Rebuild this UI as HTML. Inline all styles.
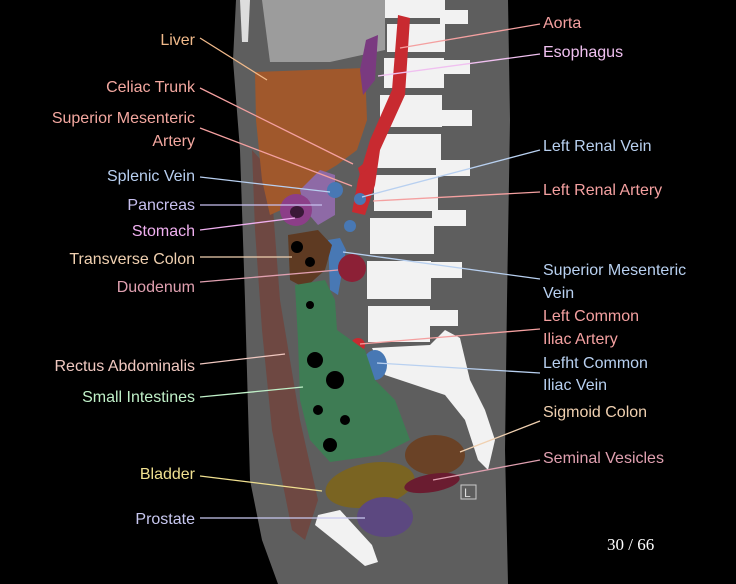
<!DOCTYPE html>
<html><head><meta charset="utf-8"><style>
html,body{margin:0;padding:0;background:#000;width:736px;height:584px;overflow:hidden}
svg{display:block}
text{font-family:"Liberation Sans","DejaVu Sans",sans-serif;font-size:16px}
</style></head><body>
<svg width="736" height="584" viewBox="0 0 736 584">
<rect width="736" height="584" fill="#000"/>
<!-- body -->
<path d="M236,0 L508,0 L510,120 L507,300 L505,450 L508,584 L278,584 L262,540 L250,480 L245,300 L240,150 L233,60 Z" fill="#5e5e5e"/>
<path d="M262,0 L385,0 L385,50 L330,62 L270,62 Z" fill="#9c9c9c"/>
<path d="M240,0 L250,0 L248,42 L242,42 Z" fill="#ddd"/>
<!-- rectus -->
<path d="M252,150 L270,170 L280,300 L300,420 L318,500 L305,540 L292,530 L272,430 L262,330 L255,230 Z" fill="#6e4842"/>
<!-- liver -->
<path d="M255,72 L365,68 L367,120 L357,150 L337,165 L312,180 L292,205 L270,215 L262,180 L256,120 Z" fill="#a0582c"/>
<!-- spine -->
<g fill="#f2f2f2">
<rect x="385" y="0" width="60" height="18"/>
<rect x="387" y="24" width="58" height="28"/>
<rect x="384" y="58" width="60" height="30"/>
<rect x="380" y="95" width="62" height="32"/>
<rect x="377" y="134" width="64" height="34"/>
<rect x="374" y="175" width="64" height="36"/>
<rect x="370" y="218" width="64" height="36"/>
<rect x="367" y="261" width="64" height="38"/>
<rect x="368" y="306" width="62" height="36"/>
<path d="M372,348 L430,345 L445,330 L460,338 L470,380 L485,410 L495,440 L488,470 L478,460 L465,420 L445,395 L415,385 L385,375 Z"/>
<rect x="440" y="10" width="28" height="14"/><rect x="440" y="60" width="30" height="14"/>
<rect x="440" y="110" width="32" height="16"/><rect x="436" y="160" width="34" height="16"/>
<rect x="432" y="210" width="34" height="16"/><rect x="428" y="262" width="34" height="16"/>
<rect x="426" y="310" width="32" height="16"/>
<path d="M318,515 L340,510 L372,545 L378,562 L365,566 L340,545 L315,525 Z"/>
</g>
<!-- aorta -->
<path d="M398,15 L410,18 L405,95 L380,150 L375,185 L365,215 L352,212 L358,180 L370,140 L392,90 Z" fill="#c82a30"/>
<path d="M358,168 L368,160 L372,165 L360,175 Z" fill="#c82a30"/>
<path d="M366,40 L378,35 L375,80 L363,95 L360,70 Z" fill="#7a3a80"/>
<!-- pancreas / stomach -->
<path d="M300,190 L320,170 L335,175 L335,215 L318,225 L305,210 Z" fill="#8e6aa6"/>
<ellipse cx="296" cy="210" rx="16" ry="16" fill="#8c3e88"/>
<ellipse cx="297" cy="212" rx="7" ry="6" fill="#3a1838"/>
<!-- blue veins -->
<g fill="#4878b4">
<circle cx="335" cy="190" r="8"/><circle cx="360" cy="199" r="6"/><circle cx="350" cy="226" r="6"/>
<path d="M328,240 L340,238 L346,250 L338,295 L330,290 Z"/>
<ellipse cx="375" cy="365" rx="12" ry="15"/>
</g>
<circle cx="352" cy="268" r="14" fill="#8c2036"/>
<circle cx="358" cy="345" r="7" fill="#c82a30"/>
<!-- transverse colon -->
<path d="M288,235 L318,230 L332,245 L325,270 L305,288 L290,280 Z" fill="#5e3a22"/>
<circle cx="297" cy="247" r="6" fill="#000"/><circle cx="310" cy="262" r="5" fill="#000"/>
<!-- small intestines -->
<path d="M295,285 L325,280 L335,300 L337,330 L365,350 L375,380 L395,400 L410,440 L380,455 L330,462 L310,440 L300,400 L298,340 Z" fill="#3e7c54"/>
<g fill="#000"><circle cx="315" cy="360" r="8"/><circle cx="335" cy="380" r="9"/><circle cx="318" cy="410" r="5"/><circle cx="345" cy="420" r="5"/><circle cx="330" cy="445" r="7"/><circle cx="310" cy="305" r="4"/></g>
<!-- pelvis -->
<ellipse cx="435" cy="455" rx="30" ry="20" fill="#6a4226"/>
<ellipse cx="370" cy="485" rx="45" ry="22" fill="#7a6422" transform="rotate(-10 370 485)"/>
<ellipse cx="432" cy="483" rx="28" ry="9" fill="#6a1c30" transform="rotate(-10 432 483)"/>
<ellipse cx="385" cy="517" rx="28" ry="20" fill="#5c4880"/>
<rect x="461" y="485" width="15" height="14" fill="none" stroke="#ccc" stroke-width="1"/>
<text x="464" y="497" fill="#ddd" style="font-size:12px">L</text>
<!-- leader lines -->
<g stroke-width="1.3" fill="none">
<line x1="200" y1="38" x2="267" y2="80" stroke="#f0b98a"/>
<line x1="200" y1="88" x2="353" y2="164" stroke="#f4a0a0"/>
<line x1="200" y1="128" x2="352" y2="186" stroke="#f4a0a0"/>
<line x1="200" y1="177" x2="330" y2="192" stroke="#b8cff0"/>
<line x1="200" y1="205" x2="322" y2="205" stroke="#c8c0f0"/>
<line x1="200" y1="230" x2="295" y2="218" stroke="#f0b0f0"/>
<line x1="200" y1="257" x2="292" y2="257" stroke="#f0d0b0"/>
<line x1="200" y1="282" x2="338" y2="270" stroke="#e0a0b0"/>
<line x1="200" y1="364" x2="285" y2="354" stroke="#f0c8c0"/>
<line x1="200" y1="397" x2="303" y2="387" stroke="#c0f0c8"/>
<line x1="200" y1="476" x2="322" y2="491" stroke="#f0e090"/>
<line x1="200" y1="518" x2="365" y2="518" stroke="#c8c8f0"/>
<line x1="540" y1="24" x2="400" y2="48" stroke="#f4a0a0"/>
<line x1="540" y1="54" x2="378" y2="76" stroke="#f0c0f0"/>
<line x1="540" y1="150" x2="362" y2="197" stroke="#b8d0f0"/>
<line x1="540" y1="192" x2="373" y2="201" stroke="#f4a0a0"/>
<line x1="540" y1="279" x2="343" y2="252" stroke="#b8d0f0"/>
<line x1="540" y1="329" x2="360" y2="344" stroke="#f4a0a0"/>
<line x1="540" y1="373" x2="377" y2="363" stroke="#b8d0f0"/>
<line x1="540" y1="421" x2="460" y2="452" stroke="#f0d0b0"/>
<line x1="540" y1="460" x2="433" y2="480" stroke="#e0a0b0"/>
</g>
<!-- left labels -->
<g text-anchor="end">
<text x="195" y="45" fill="#f0b98a">Liver</text>
<text x="195" y="92" fill="#f4a8a0">Celiac Trunk</text>
<text x="195" y="123" fill="#f4a8a0">Superior Mesenteric</text>
<text x="195" y="146" fill="#f4a8a0">Artery</text>
<text x="195" y="181" fill="#b8cff0">Splenic Vein</text>
<text x="195" y="210" fill="#c8c0f0">Pancreas</text>
<text x="195" y="236" fill="#f0b0f0">Stomach</text>
<text x="195" y="264" fill="#f0d0b0">Transverse Colon</text>
<text x="195" y="292" fill="#e0a0b0">Duodenum</text>
<text x="195" y="371" fill="#f0c8c0">Rectus Abdominalis</text>
<text x="195" y="402" fill="#c0f0c8">Small Intestines</text>
<text x="195" y="479" fill="#f0e090">Bladder</text>
<text x="195" y="524" fill="#c8c8f0">Prostate</text>
</g>
<g>
<text x="543" y="28" fill="#f4a0a0">Aorta</text>
<text x="543" y="57" fill="#f0c0f0">Esophagus</text>
<text x="543" y="151" fill="#b8d0f0">Left Renal Vein</text>
<text x="543" y="195" fill="#f4a0a0">Left Renal Artery</text>
<text x="543" y="275" fill="#b8d0f0">Superior Mesenteric</text>
<text x="543" y="298" fill="#b8d0f0">Vein</text>
<text x="543" y="321" fill="#f4a0a0">Left Common</text>
<text x="543" y="344" fill="#f4a0a0">Iliac Artery</text>
<text x="543" y="368" fill="#b8d0f0">Lefht Common</text>
<text x="543" y="390" fill="#b8d0f0">Iliac Vein</text>
<text x="543" y="417" fill="#f0d0b0">Sigmoid Colon</text>
<text x="543" y="463" fill="#e0a0b0">Seminal Vesicles</text>
</g>
<text x="607" y="550" fill="#fff" style="font-family:'Liberation Serif',serif;font-size:17px">30 / 66</text>
</svg>
</body></html>
